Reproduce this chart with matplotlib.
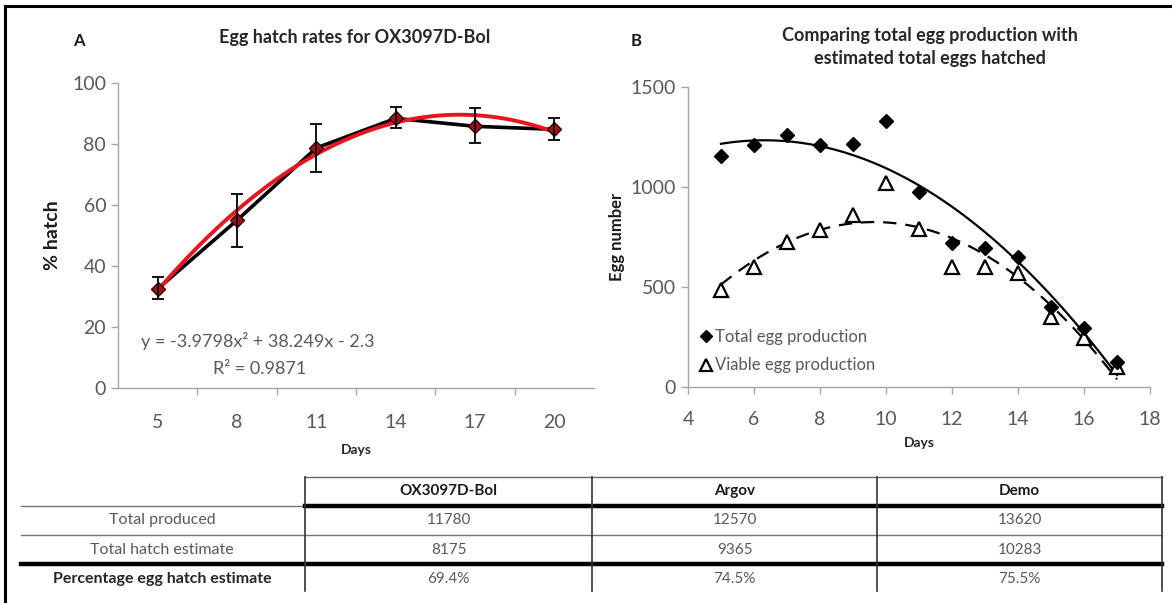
import numpy as np
import matplotlib
matplotlib.use('Agg')
import matplotlib.pyplot as plt
from matplotlib.lines import Line2D

plt.rcParams['font.family'] = ['Lato', 'DejaVu Sans']

# Panel A: hatch rate by day
days_a = [5, 8, 11, 14, 17, 20]
hatch = [32.5, 55.0, 78.7, 88.4, 85.8, 84.8]
hatch_lo = [29.2, 46.2, 70.8, 85.1, 80.2, 81.3]
hatch_hi = [36.3, 63.6, 86.6, 92.0, 91.7, 88.4]
fit_a = [-3.9798, 38.249, -2.3]   # quadratic on category index 1..6
r2_a = 0.9871

# Panel B: egg counts by day
days_b = [5, 6, 7, 8, 9, 10, 11, 12, 13, 14, 15, 16, 17]
total_eggs = [1155, 1210, 1260, 1210, 1215, 1330, 973, 718, 693, 648, 402, 293, 127]
viable_eggs = [485, 602, 727, 785, 860, 1018, 788, 602, 598, 568, 352, 243, 102]

# Summary table
strains = ['OX3097D-Bol', 'Argov', 'Demo']
row_names = ['Total produced', 'Total hatch estimate', 'Percentage egg hatch estimate']
total_produced = ['11780', '12570', '13620']
hatch_estimate = ['8175', '9365', '10283']
pct_hatch = ['69.4%', '74.5%', '75.5%']

W, H = 1172, 603
fig = plt.figure(figsize=(W / 100, H / 100), dpi=100)


def fx(x):
    return x / W


def fy(y):
    return 1 - y / H


tick_col = '#595959'
axis_col = '#a6a6a6'


def style_axes(ax):
    for s in ['top', 'right']:
        ax.spines[s].set_visible(False)
    for s in ['left', 'bottom']:
        ax.spines[s].set_color(axis_col)
        ax.spines[s].set_linewidth(1.0)
    ax.tick_params(colors=axis_col, labelcolor=tick_col, labelsize=14,
                   direction='out', length=5, width=1)


# ---- A ----
axA = fig.add_axes([fx(118), fy(388), fx(594) - fx(118), fy(83) - fy(388)])
style_axes(axA)
axA.set_xlim(3.5, 21.5)
axA.set_ylim(0, 100)
axA.set_yticks(range(0, 101, 20))
axA.set_xticks(days_a)
axA.set_xticks([6.5, 9.5, 12.5, 15.5, 18.5], minor=True)
axA.tick_params(axis='x', which='major', length=0, pad=19)
axA.tick_params(axis='x', which='minor', length=5, width=1, color=axis_col)

axA.plot(days_a, hatch, color='black', lw=2.6, zorder=2)
xs = np.linspace(5, 20, 200)
idx = (xs - 2) / 3
axA.plot(xs, np.polyval(fit_a, idx), color='#e8141e', lw=2.8, zorder=3)
yerr = [np.array(hatch) - np.array(hatch_lo), np.array(hatch_hi) - np.array(hatch)]
axA.errorbar(days_a, hatch, yerr=yerr, fmt='none', ecolor='black', elinewidth=1.3,
             capsize=4, capthick=1.3, zorder=5)
axA.plot(days_a, hatch, ls='none', marker='D', ms=7.5, mfc='#a0101a', mec='#3a0000',
         mew=1.0, zorder=4)

axA.set_ylabel('% hatch', fontsize=14, fontweight='bold', color='#1a1a1a', labelpad=8)
axA.set_xlabel('Days', fontsize=10, fontweight='bold', color='#262626', labelpad=9)
eq = 'y = %.4fx\u00b2 + %.3fx - %.1f' % (fit_a[0], fit_a[1], -fit_a[2])
fig.text(fx(258), fy(341), eq, fontsize=13, color='#595959', ha='center', va='center')
fig.text(fx(260), fy(369), 'R\u00b2 = %.4f' % r2_a, fontsize=13, color='#595959',
         ha='center', va='center')
fig.text(fx(79), fy(41), 'A', fontsize=12, fontweight='bold', color='#1a1a1a',
         ha='center', va='center')
fig.text(fx(355), fy(38), 'Egg hatch rates for OX3097D-Bol', fontsize=13,
         fontweight='bold', color='#262626', ha='center', va='center')

# ---- B ----
axB = fig.add_axes([fx(688), fy(387), fx(1150) - fx(688), fy(87) - fy(387)])
style_axes(axB)
axB.set_xlim(4, 18)
axB.set_ylim(0, 1500)
axB.set_xticks(range(4, 19, 2))
axB.set_yticks(range(0, 1501, 500))
axB.tick_params(axis='x', pad=12)

xb = np.linspace(5, 17, 200)
ct = np.polyfit(days_b, total_eggs, 2)
cv = np.polyfit(days_b, viable_eggs, 2)
axB.plot(xb, np.polyval(ct, xb), color='black', lw=1.6, zorder=2)
axB.plot(xb, np.polyval(cv, xb), color='black', lw=1.6, ls=(0, (6, 4)), zorder=2)
axB.plot(days_b, total_eggs, ls='none', marker='D', ms=7, color='black', zorder=4,
         label='Total egg production')
axB.plot(days_b, viable_eggs, ls='none', marker='^', ms=10, mfc='white', mec='black',
         mew=1.6, zorder=3, label='Viable egg production')
leg = axB.legend(loc='lower left', bbox_to_anchor=(-0.005, -0.005), frameon=False,
                 fontsize=12, handlelength=0.6, handletextpad=0.25, labelspacing=0.75,
                 markerscale=0.85)
for t in leg.get_texts():
    t.set_color('#595959')

axB.set_ylabel('Egg number', fontsize=12, fontweight='bold', color='#1a1a1a', labelpad=4)
axB.set_xlabel('Days', fontsize=10, fontweight='bold', color='#262626', labelpad=7)
fig.text(fx(636), fy(41), 'B', fontsize=12, fontweight='bold', color='#1a1a1a',
         ha='center', va='center')
fig.text(fx(930), fy(47), 'Comparing total egg production with\nestimated total eggs hatched',
         fontsize=13, fontweight='bold', color='#262626', ha='center', va='center',
         linespacing=1.4)

# ---- table ----
def hline(y, x0, x1, lw, col):
    fig.add_artist(Line2D([fx(x0), fx(x1)], [fy(y), fy(y)], lw=lw, color=col))


def vline(x, y0, y1, lw, col):
    fig.add_artist(Line2D([fx(x), fx(x)], [fy(y0), fy(y1)], lw=lw, color=col))


col_edges = [305, 592, 877, 1162]
hline(477, 305, 1162, 1.0, '#666666')
hline(506, 21, 305, 1.0, '#777777')
hline(506, 305, 1162, 3.2, 'black')
hline(535, 21, 1162, 1.0, '#777777')
hline(564, 21, 1162, 3.2, 'black')
for x in col_edges:
    vline(x, 477, 591, 1.2, '#333333')

row_y = [520, 550, 579]
for j, name in enumerate(strains):
    cx = (col_edges[j] + col_edges[j + 1]) / 2
    fig.text(fx(cx), fy(491), name, fontsize=11, fontweight='bold', color='#1a1a1a',
             ha='center', va='center')
    for i, vals in enumerate([total_produced, hatch_estimate, pct_hatch]):
        fig.text(fx(cx), fy(row_y[i]), vals[j], fontsize=11, color='#595959',
                 ha='center', va='center')
for i, name in enumerate(row_names):
    bold = i == 2
    fig.text(fx(162), fy(row_y[i]), name, fontsize=11.5,
             fontweight='bold' if bold else 'normal',
             color='#262626' if bold else '#595959', ha='center', va='center')

# outer frame (top and left edges)
fig.add_artist(Line2D([fx(5), fx(5)], [0, fy(6)], lw=2.2, color='black'))
fig.add_artist(Line2D([fx(5), 1], [fy(6), fy(6)], lw=2.2, color='black'))

fig.savefig('out.png', dpi=100)
